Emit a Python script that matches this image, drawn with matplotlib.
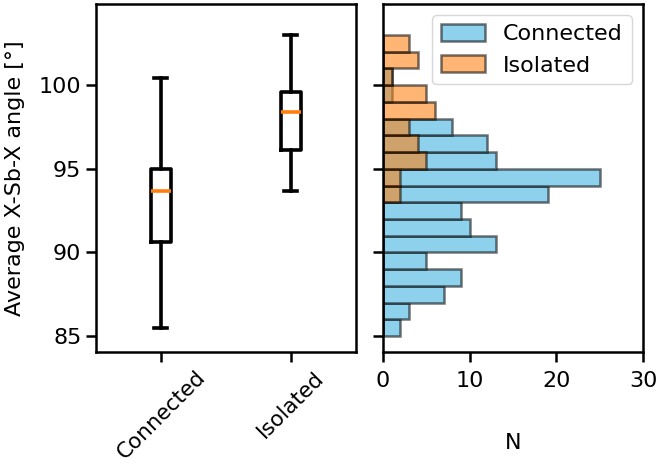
import matplotlib
matplotlib.use("Agg")
import matplotlib.pyplot as plt

# box plot summaries
groups = ["Connected", "Isolated"]
medians = [93.7, 98.4]
q1s = [90.6, 96.1]
q3s = [95.0, 99.6]
whis_lo = [85.5, 93.7]
whis_hi = [100.4, 103.0]

# histogram counts, bins of 1 degree starting at 85
bin_edges = list(range(85, 104))
connected_counts = [2, 3, 7, 9, 5, 13, 10, 9, 19, 25, 13, 12, 8, 0, 1, 1, 0, 0]
isolated_counts = [0, 0, 0, 0, 0, 0, 0, 0, 2, 2, 5, 4, 3, 6, 5, 1, 4, 3]

plt.rcParams["font.size"] = 16

fig = plt.figure(figsize=(6.58, 4.67), dpi=100)
ax1 = fig.add_axes([0.1459, 0.2463, 0.3951, 0.7452])
ax2 = fig.add_axes([0.5821, 0.2463, 0.3951, 0.7452], sharey=ax1)

stats = [
    {"med": m, "q1": a, "q3": b, "whislo": lo, "whishi": hi, "fliers": [], "label": g}
    for g, m, a, b, lo, hi in zip(groups, medians, q1s, q3s, whis_lo, whis_hi)
]
lw = 2.6
ax1.bxp(
    stats,
    capwidths=0.1,
    boxprops=dict(linewidth=lw),
    whiskerprops=dict(linewidth=lw),
    capprops=dict(linewidth=lw),
    medianprops=dict(linewidth=lw, color="#ff7f0e"),
)
ax1.set_xlim(0.5, 2.5)
ax1.set_ylim(84.05, 104.85)
ax1.set_yticks([85, 90, 95, 100])
ax1.set_ylabel("Average X-Sb-X angle [°]", labelpad=10)

widths = [1] * len(connected_counts)
ax2.barh(bin_edges[:-1], connected_counts, height=widths, align="edge",
         color=(0.53, 0.81, 0.93, 0.95), edgecolor=(0, 0, 0, 0.55),
         linewidth=1.8, label="Connected")
ax2.barh(bin_edges[:-1], isolated_counts, height=widths, align="edge",
         color=(1.0, 0.50, 0.06, 0.58), edgecolor=(0, 0, 0, 0.55),
         linewidth=1.8, label="Isolated")
ax2.set_xlim(0, 30)
ax2.set_xticks([0, 10, 20, 30])
ax2.set_xlabel("N", labelpad=30)
ax2.tick_params(axis="y", labelleft=False)
ax2.legend(loc="upper right", handlelength=2.0, handleheight=0.8)

for ax in (ax1, ax2):
    for s in ax.spines.values():
        s.set_linewidth(1.8)
    ax.tick_params(width=1.8, length=7)
ax2.tick_params(axis="x", pad=7)
ax1.tick_params(axis="x", pad=4, labelsize=15.5, labelrotation=45)

fig.savefig("out.png", dpi=100)
